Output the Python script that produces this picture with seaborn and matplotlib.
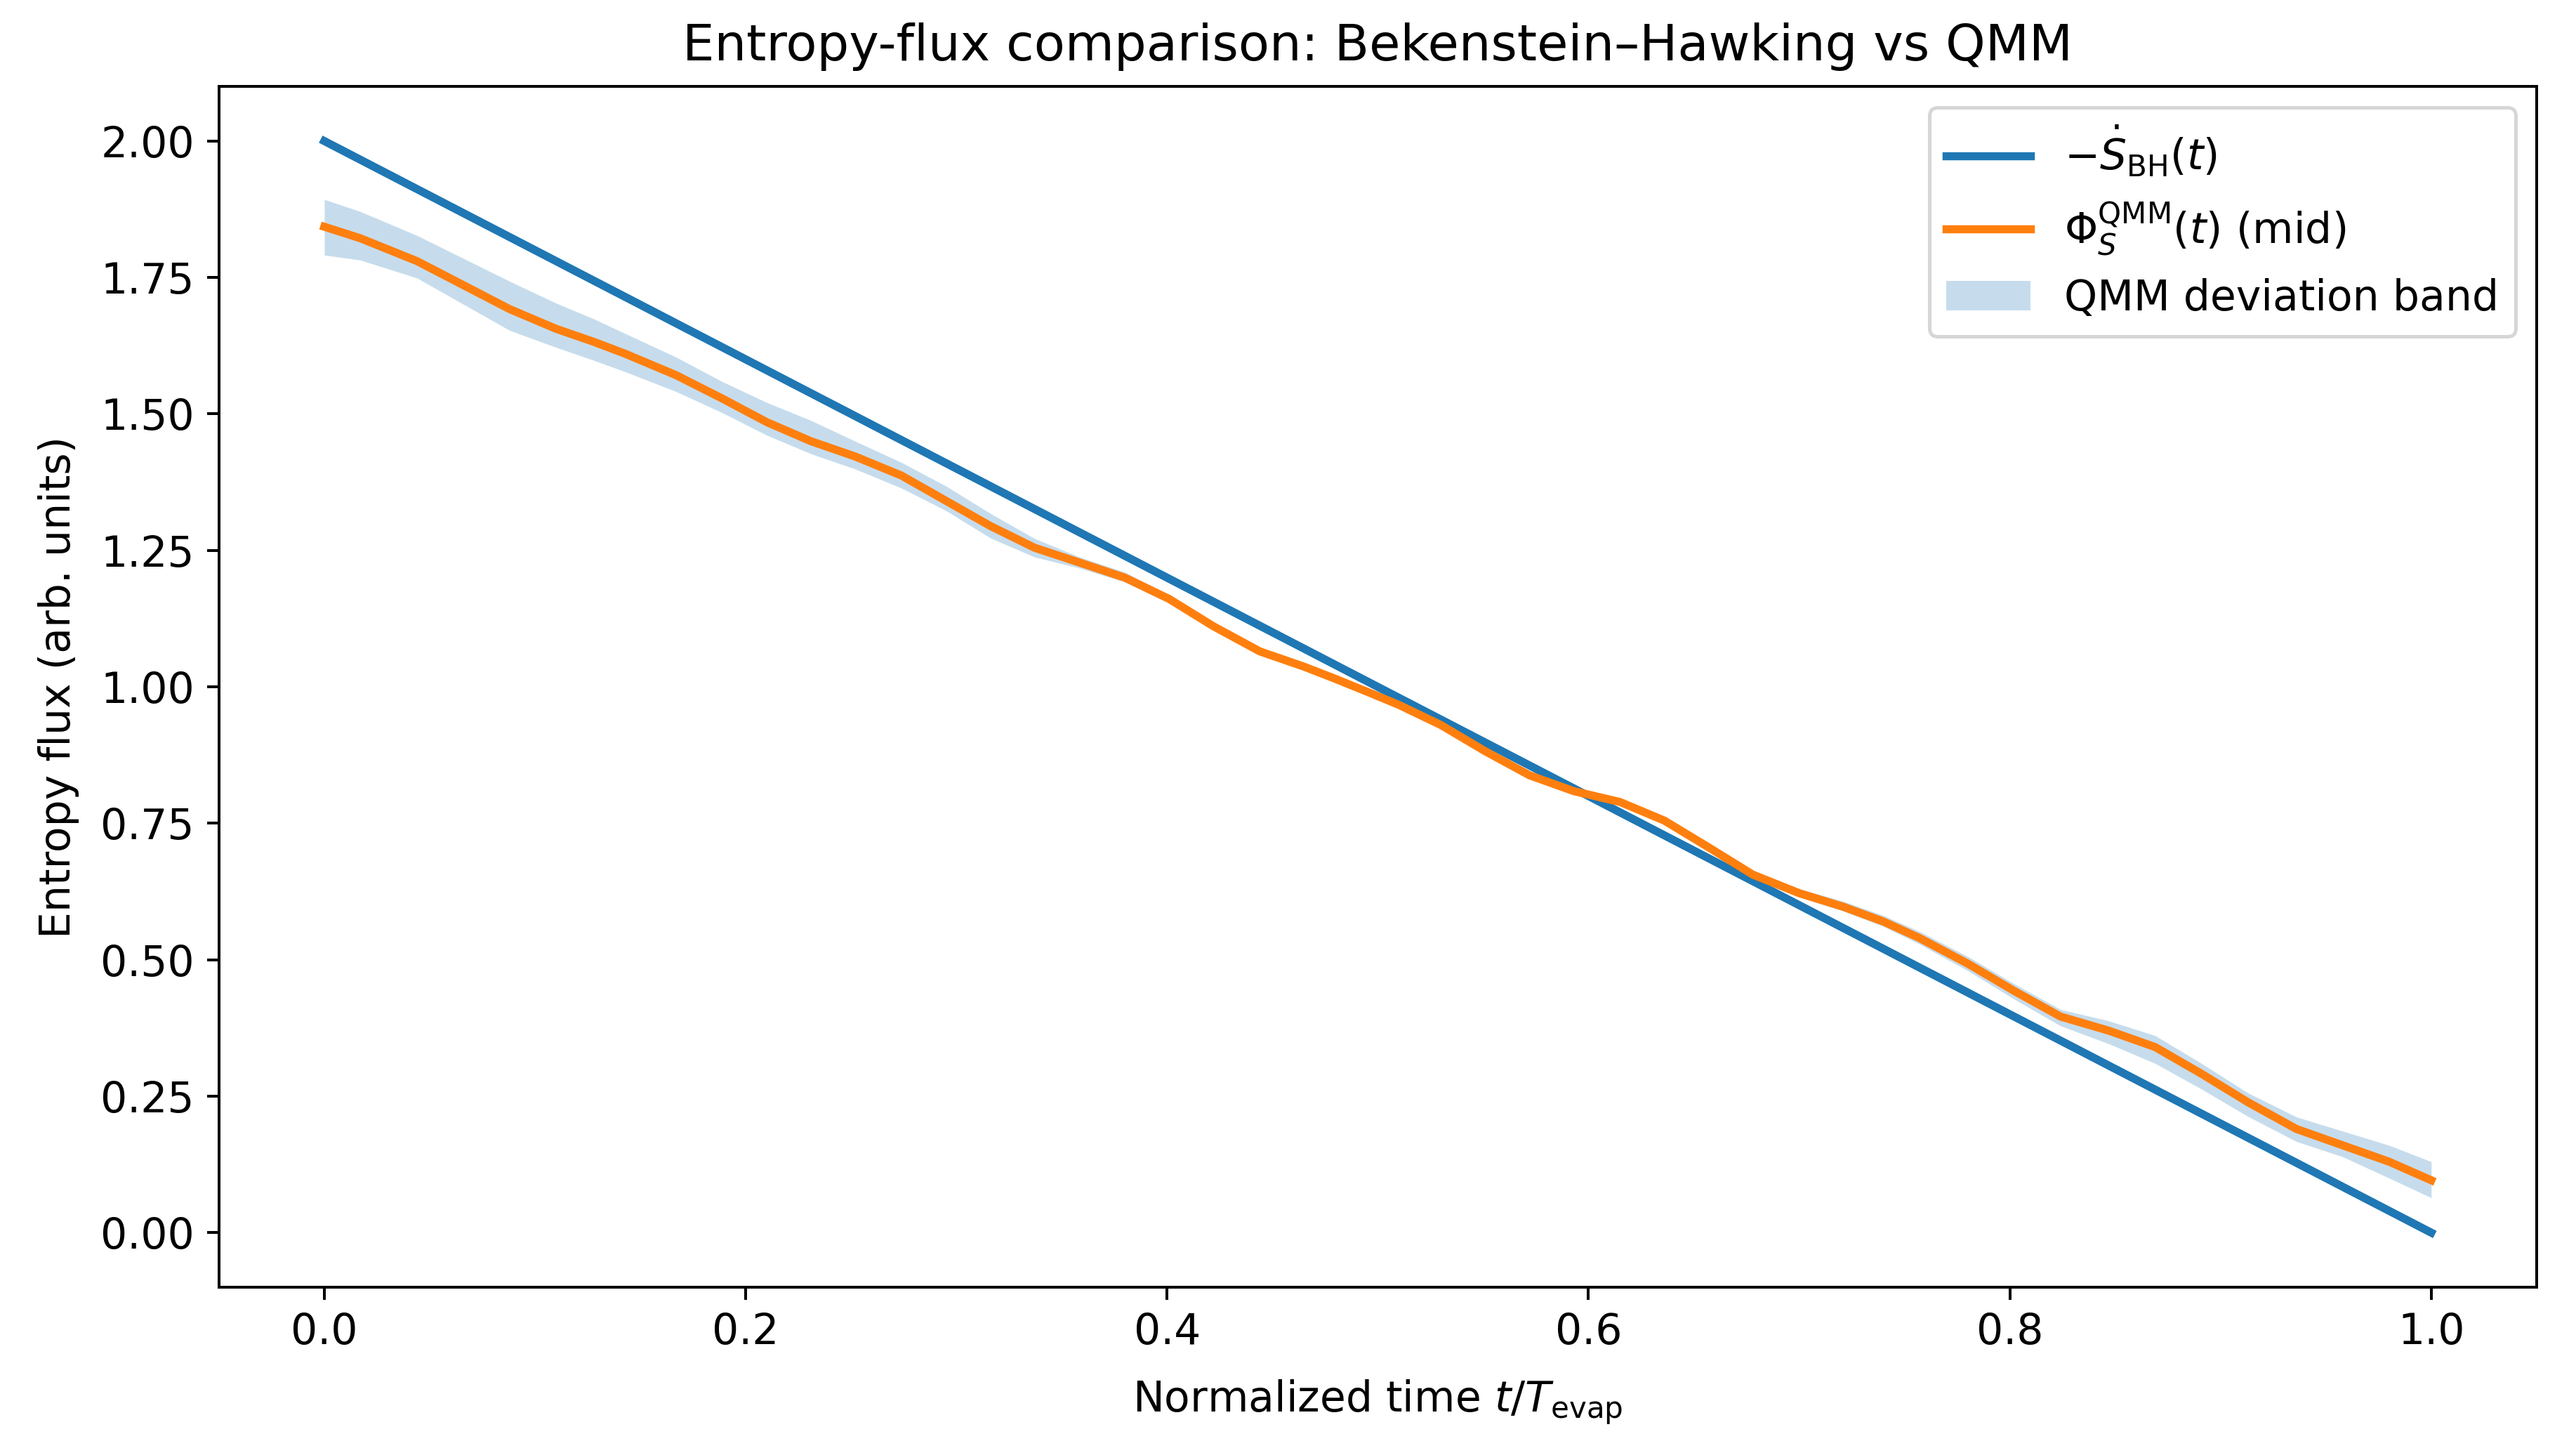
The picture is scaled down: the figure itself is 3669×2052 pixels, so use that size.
import numpy as np
import matplotlib
matplotlib.use("Agg")
import matplotlib.pyplot as plt
import seaborn as sns

plt.rcParams["font.size"] = 12

# Bekenstein-Hawking flux (straight line, read at the ends)
t_bh = [0.0, 1.0]
s_bh = [2.0, 0.0]

# QMM mid curve and deviation band
t_qmm = [0.000, 0.017, 0.044, 0.066, 0.088, 0.110, 0.128, 0.143, 0.167, 0.189,
         0.210, 0.231, 0.252, 0.274, 0.295, 0.316, 0.337, 0.359, 0.380, 0.401,
         0.422, 0.444, 0.465, 0.479, 0.495, 0.510, 0.530, 0.551, 0.572, 0.593,
         0.615, 0.636, 0.657, 0.678, 0.700, 0.721, 0.740, 0.757, 0.780, 0.802,
         0.824, 0.847, 0.869, 0.891, 0.913, 0.936, 0.958, 0.980, 1.000]
phi_mid = [1.843, 1.822, 1.780, 1.736, 1.692, 1.656, 1.632, 1.610, 1.571, 1.528,
           1.485, 1.450, 1.422, 1.387, 1.341, 1.295, 1.255, 1.227, 1.200, 1.161,
           1.111, 1.065, 1.037, 1.016, 0.991, 0.967, 0.930, 0.882, 0.838, 0.809,
           0.789, 0.755, 0.706, 0.656, 0.622, 0.597, 0.570, 0.540, 0.493, 0.443,
           0.396, 0.370, 0.340, 0.291, 0.239, 0.190, 0.160, 0.130, 0.096]
band_hi = [1.893, 1.871, 1.827, 1.785, 1.743, 1.703, 1.674, 1.647, 1.604, 1.559,
           1.521, 1.488, 1.450, 1.411, 1.368, 1.318, 1.272, 1.237, 1.210, 1.168,
           1.117, 1.071, 1.042, 1.020, 0.994, 0.970, 0.933, 0.885, 0.842, 0.813,
           0.794, 0.761, 0.712, 0.663, 0.630, 0.607, 0.581, 0.552, 0.506, 0.456,
           0.409, 0.388, 0.361, 0.310, 0.256, 0.212, 0.186, 0.160, 0.130]
band_lo = [1.791, 1.782, 1.749, 1.701, 1.653, 1.622, 1.598, 1.577, 1.541, 1.502,
           1.461, 1.427, 1.399, 1.364, 1.323, 1.273, 1.238, 1.217, 1.192, 1.154,
           1.105, 1.059, 1.032, 1.012, 0.988, 0.964, 0.927, 0.879, 0.834, 0.805,
           0.784, 0.749, 0.700, 0.649, 0.615, 0.589, 0.561, 0.529, 0.480, 0.428,
           0.379, 0.346, 0.310, 0.263, 0.213, 0.167, 0.139, 0.100, 0.064]

fig = plt.figure(figsize=(3669 / 360, 2052 / 360), dpi=360)
ax = fig.add_axes([0.0850, 0.1067, 0.8997, 0.8333])

ax.fill_between(t_qmm, band_lo, band_hi, color="C0", alpha=0.25, linewidth=0,
                label="QMM deviation band")
sns.lineplot(x=t_bh, y=s_bh, ax=ax, color="C0", linewidth=2.3,
             label=r"$-\dot{S}_{\mathrm{BH}}(t)$")
sns.lineplot(x=t_qmm, y=phi_mid, ax=ax, color="C1", linewidth=2.3,
             label=r"$\Phi_S^{\mathrm{QMM}}(t)$ (mid)")

ax.set_title("Entropy-flux comparison: Bekenstein–Hawking vs QMM", pad=7.5)
ax.set_xlabel(r"Normalized time $t/T_{\mathrm{evap}}$", labelpad=7)
ax.set_ylabel("Entropy flux (arb. units)", labelpad=6)

handles, labels = ax.get_legend_handles_labels()
order = [labels.index(l) for l in [r"$-\dot{S}_{\mathrm{BH}}(t)$",
                                   r"$\Phi_S^{\mathrm{QMM}}(t)$ (mid)",
                                   "QMM deviation band"]]
ax.legend([handles[i] for i in order], [labels[i] for i in order], loc="upper right")

fig.savefig("out.png", dpi=360)
